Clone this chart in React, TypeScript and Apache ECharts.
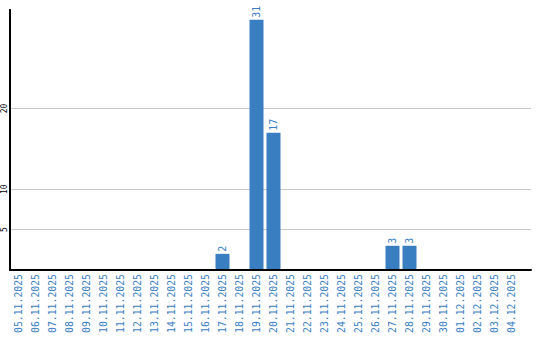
import React, { useEffect, useRef } from "react";
import * as echarts from "echarts";

const dates = [
  "05.11.2025", "06.11.2025", "07.11.2025", "08.11.2025", "09.11.2025",
  "10.11.2025", "11.11.2025", "12.11.2025", "13.11.2025", "14.11.2025",
  "15.11.2025", "16.11.2025", "17.11.2025", "18.11.2025", "19.11.2025",
  "20.11.2025", "21.11.2025", "22.11.2025", "23.11.2025", "24.11.2025",
  "25.11.2025", "26.11.2025", "27.11.2025", "28.11.2025", "29.11.2025",
  "30.11.2025", "01.12.2025", "02.12.2025", "03.12.2025", "04.12.2025",
];
const counts = [
  0, 0, 0, 0, 0, 0, 0, 0, 0, 0,
  0, 0, 2, 0, 31, 17, 0, 0, 0, 0,
  0, 0, 3, 3, 0, 0, 0, 0, 0, 0,
];
const yTicks = [5, 10, 20];
const yMax = 32.2;

const BLUE = "#3a7ec2";
const MONO = "DejaVu Sans Mono, Liberation Mono, monospace";

export default function App() {
  const ref = useRef<HTMLDivElement>(null);
  useEffect(() => {
    document.body.style.margin = "0";
    if (!ref.current) return;
    const chart = echarts.init(ref.current, null, { renderer: "svg" });
    chart.setOption({
      animation: false,
      backgroundColor: "#fff",
      grid: [
        { left: 10, right: 9, top: 10, bottom: 70 },
        { left: 10, width: 510, top: 10, bottom: 70 },
      ],
      xAxis: [
        {
          type: "value",
          gridIndex: 0,
          min: 0,
          max: 1,
          z: 5,
          axisLine: { show: true, lineStyle: { color: "#000", width: 2 } },
          axisTick: { show: false },
          axisLabel: { show: false },
          splitLine: { show: false },
        },
        {
          type: "category",
          gridIndex: 1,
          data: dates,
          axisLine: { show: false },
          axisTick: { show: false },
          axisLabel: {
            interval: 0,
            rotate: 90,
            color: BLUE,
            fontFamily: MONO,
            fontSize: 9.8,
            margin: 4,
          },
        },
      ],
      yAxis: [
        {
          type: "value",
          gridIndex: 0,
          min: 0,
          max: yMax,
          interval: 5,
          z: 5,
          axisLine: { show: true, onZero: false, lineStyle: { color: "#000", width: 2 } },
          axisTick: { show: false },
          axisLabel: {
            show: true,
            rotate: 90,
            color: "#000",
            fontFamily: MONO,
            fontSize: 8,
            margin: 2,
            formatter: (v: number) => (yTicks.includes(v) ? String(v) : ""),
          },
          splitLine: { show: false },
        },
        {
          type: "value",
          gridIndex: 1,
          min: 0,
          max: yMax,
          z: 5,
          axisLine: { show: true, onZero: false, lineStyle: { color: "#000", width: 2 } },
          axisTick: { show: false },
          axisLabel: { show: false },
          splitLine: { show: false },
        },
      ],
      series: [
        {
          type: "line",
          xAxisIndex: 0,
          yAxisIndex: 0,
          data: [],
          silent: true,
          z: 1,
          markLine: {
            silent: true,
            symbol: "none",
            z: 1,
            label: { show: false },
            lineStyle: { color: "#c8c8c8", width: 1, type: "solid" },
            data: yTicks.map((v) => ({ yAxis: v })),
          },
        },
        {
          type: "bar",
          xAxisIndex: 1,
          yAxisIndex: 1,
          z: 3,
          data: counts,
          barWidth: 14,
          itemStyle: { color: BLUE },
          label: {
            show: true,
            position: "top",
            rotate: 90,
            align: "left",
            verticalAlign: "middle",
            distance: 2,
            color: BLUE,
            fontFamily: MONO,
            fontSize: 10,
            formatter: (p: any) => (p.value ? String(p.value) : ""),
          },
        },
      ],
    });
    return () => chart.dispose();
  }, []);
  return <div ref={ref} style={{ width: 540, height: 340 }} />;
}
